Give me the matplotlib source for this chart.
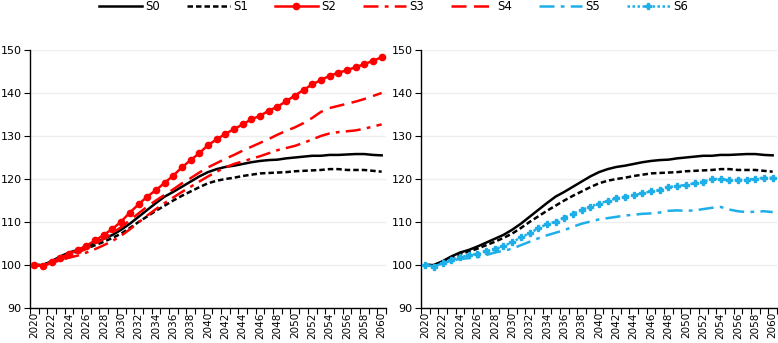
import matplotlib
matplotlib.use("Agg")
import matplotlib.pyplot as plt
from matplotlib.lines import Line2D

years = list(range(2020, 2061))

s0 = [100, 100, 100.9, 102.0, 102.9, 103.5, 104.3, 105.2, 106.1, 107.0, 108.2, 109.6, 111.2, 112.8, 114.4, 115.9,
      117.0, 118.2, 119.4, 120.6, 121.6, 122.3, 122.8, 123.1, 123.5, 123.9, 124.2, 124.4, 124.5, 124.8, 125.0,
      125.2, 125.4, 125.4, 125.6, 125.6, 125.7, 125.8, 125.8, 125.6, 125.5]
s1 = [100, 100, 100.8, 101.8, 102.6, 103.1, 103.8, 104.6, 105.4, 106.3, 107.3, 108.6, 110.0, 111.3, 112.6, 113.8,
      115.0, 116.1, 117.1, 118.1, 119.0, 119.6, 120.0, 120.3, 120.7, 121.0, 121.3, 121.4, 121.5, 121.6, 121.8,
      121.9, 122.0, 122.1, 122.3, 122.3, 122.1, 122.1, 122.1, 121.9, 121.7]
s2 = [100, 99.7, 100.8, 101.7, 102.6, 103.5, 104.5, 105.7, 107.0, 108.4, 110.1, 112.2, 114.1, 115.9, 117.4, 119.1,
      120.8, 122.7, 124.4, 126.0, 127.9, 129.2, 130.5, 131.6, 132.7, 133.9, 134.7, 135.9, 136.8, 138.1, 139.4,
      140.7, 142.0, 143.0, 144.0, 144.7, 145.3, 146.0, 146.7, 147.5, 148.3]
s3 = [100, 99.8, 100.5, 101.1, 101.7, 102.2, 102.9, 103.7, 104.6, 105.6, 106.8, 108.3, 109.9, 111.5, 113.0, 114.4,
      115.7, 117.0, 118.2, 119.4, 120.6, 121.7, 122.7, 123.5, 124.1, 124.7, 125.3, 126.0, 126.7, 127.2, 127.7,
      128.4, 129.2, 130.0, 130.6, 130.9, 131.1, 131.3, 131.7, 132.2, 132.7]
s4 = [100, 99.8, 100.6, 101.3, 102.1, 102.9, 103.8, 104.9, 106.1, 107.4, 108.8, 110.4, 112.0, 113.6, 115.0, 116.3,
      117.6, 119.0, 120.2, 121.5, 122.7, 123.7, 124.7, 125.6, 126.6, 127.5, 128.4, 129.3, 130.3, 131.2, 132.0,
      133.0, 134.2, 135.6, 136.5, 137.0, 137.5, 138.0, 138.6, 139.3, 140.0]
s5 = [100, 99.7, 100.4, 101.0, 101.4, 101.6, 101.8, 102.3, 102.9, 103.3, 103.8, 104.6, 105.4, 106.2, 106.9, 107.5,
      108.1, 108.9, 109.6, 110.1, 110.6, 110.9, 111.2, 111.5, 111.7, 111.9, 112.0, 112.2, 112.6, 112.7, 112.6,
      112.7, 113.0, 113.3, 113.5, 112.9, 112.5, 112.3, 112.4, 112.5, 112.3]
s6 = [100, 99.6, 100.4, 101.2, 101.8, 102.3, 102.6, 103.2, 103.7, 104.4, 105.3, 106.4, 107.4, 108.5, 109.5, 110.1,
      111.0, 111.9, 112.8, 113.6, 114.3, 114.9, 115.5, 115.9, 116.2, 116.7, 117.1, 117.4, 118.1, 118.4, 118.6,
      119.0, 119.4, 120.0, 120.0, 119.7, 119.8, 119.8, 120.1, 120.3, 120.3]

labels = ["S0", "S1", "S2", "S3", "S4", "S5", "S6"]
yticks = [90, 100, 110, 120, 130, 140, 150]
xtick_years = list(range(2020, 2061, 2))

RED = "#FF0000"
BLUE = "#1EAEE8"
styles = {
    "S0": dict(color="black", lw=1.8, ls="-"),
    "S1": dict(color="black", lw=1.8, ls=(0, (2.2, 1.2))),
    "S2": dict(color=RED, lw=1.8, ls="-", marker="o", ms=4.5),
    "S3": dict(color=RED, lw=1.8, ls=(0, (6, 2.5, 1.5, 2.5))),
    "S4": dict(color=RED, lw=1.8, ls=(0, (6, 3))),
    "S5": dict(color=BLUE, lw=1.8, ls=(0, (6, 2.5, 1.5, 2.5))),
    "S6": dict(color=BLUE, lw=1.8, ls=(0, (1, 1)), marker="P", ms=5),
}
data = {"S0": s0, "S1": s1, "S2": s2, "S3": s3, "S4": s4, "S5": s5, "S6": s6}

plt.rcParams['font.family'] = ['DejaVu Sans']
fig = plt.figure(figsize=(7.78, 3.43), dpi=100)
W, H = 778, 343
ax1 = fig.add_axes([30 / W, 1 - 308 / H, 356 / W, 258 / H])
ax2 = fig.add_axes([421 / W, 1 - 308 / H, 356 / W, 258 / H])

panels = [(ax1, ["S0", "S1", "S3", "S4", "S2"]), (ax2, ["S0", "S1", "S5", "S6"])]
for ax, keys in panels:
    for k in keys:
        ax.plot(years, data[k], zorder=3, **styles[k])
    ax.set_xlim(2019.5, 2060.5)
    ax.set_ylim(90, 150)
    ax.set_yticks(yticks)
    ax.yaxis.grid(True, color="#EEEEEE", lw=1, zorder=0)
    ax.set_axisbelow(True)
    for sp in ["top", "right"]:
        ax.spines[sp].set_visible(False)
    ax.spines["left"].set_linewidth(1.0)
    ax.spines["bottom"].set_linewidth(1.0)
    ax.set_xticks(xtick_years)
    ax.set_xticklabels([str(y) for y in xtick_years], rotation=90, fontsize=7.5)
    ax.tick_params(axis="x", which="major", length=0, pad=3)
    ax.set_xticks([y - 0.5 for y in years] + [2060.5], minor=True)
    ax.tick_params(axis="x", which="minor", length=4, direction="out", width=0.8)
    ax.tick_params(axis="y", length=4, width=0.8, labelsize=8, pad=2)

handles = [Line2D([], [], **styles[k]) for k in labels]
fig.legend(handles, labels, loc="upper center", bbox_to_anchor=(0.506, 1.03), ncol=7, frameon=False,
           fontsize=8.5, handlelength=3.6, columnspacing=2.3, handletextpad=0.3)

fig.savefig("out.png", dpi=100)
